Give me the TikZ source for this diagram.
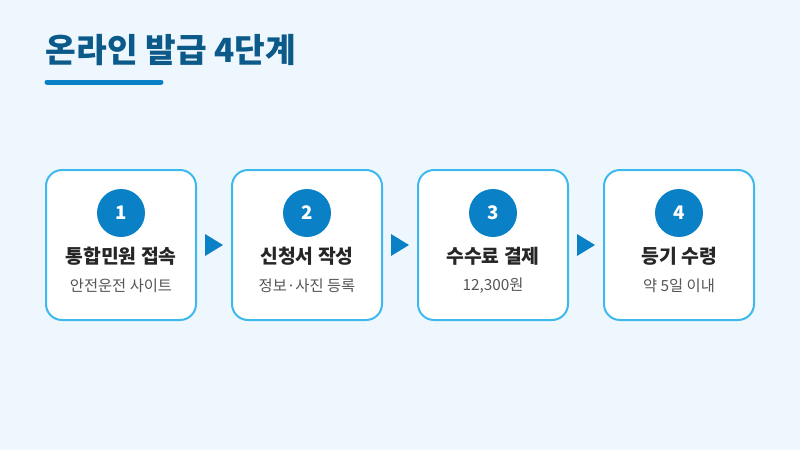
\documentclass[tikz,border=0pt]{standalone}
\usepackage{fontspec}
\setmainfont{Noto Sans CJK KR}
\usetikzlibrary{positioning,calc}
\definecolor{bgblue}{HTML}{EEF7FE}
\definecolor{titleblue}{HTML}{0B5A8A}
\definecolor{mainblue}{HTML}{0A80C6}
\definecolor{edgeblue}{HTML}{3DB9EE}
\definecolor{darktext}{HTML}{262626}
\definecolor{graytext}{HTML}{555555}
\tikzset{
  stepbox/.style={draw=edgeblue,line width=1.5pt,fill=white,rounded corners=12pt,
    minimum width=112.5pt,minimum height=112.5pt},
  num/.style={circle,fill=mainblue,minimum size=36pt,inner sep=0pt,
    text=white,font=\fontsize{14}{16}\selectfont\bfseries},
  head/.style={text=darktext,font=\fontsize{14.5}{17}\selectfont\bfseries},
  sub/.style={text=graytext,font=\fontsize{11.5}{13}\selectfont}
}
\begin{document}
\begin{tikzpicture}[x=0.75pt,y=-0.75pt]
  \fill[bgblue] (0,0) rectangle (800,450);
  \useasboundingbox (0,0) rectangle (800,450);
  \node[anchor=west,text=titleblue,font=\fontsize{25}{30}\selectfont\bfseries] (title) at (41,50) {온라인 발급 4단계};
  \draw[mainblue,line width=3.75pt,line cap=round] (47,82) -- (161,82);
  % steps
  \foreach \i/\x/\h/\s in {1/121/통합민원 접속/안전운전 사이트,2/307/신청서 작성/정보·사진 등록,3/493/수수료 결제/{12,300원},4/679/등기 수령/약 5일 이내}
  {
    \node[stepbox] (box\i) at (\x,245) {};
    \node[num] (n\i) at (\x,213) {\i};
    \node[head] (h\i) at (\x,256) {\h};
    \node[sub] (s\i) at (\x,286) {\s};
  }
  \foreach \a/\b in {1/2,2/3,3/4}
  {
    \coordinate (m\a) at ($(box\a.east)!0.5!(box\b.west)$);
    \fill[mainblue] ($(m\a)+(-9,-11)$) -- ($(m\a)+(9,0)$) -- ($(m\a)+(-9,11)$) -- cycle;
  }
\end{tikzpicture}
\end{document}
